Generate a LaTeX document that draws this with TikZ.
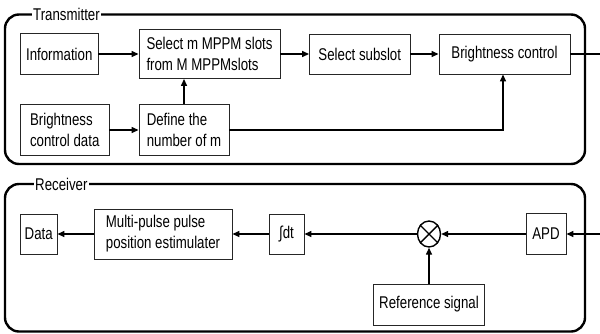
\documentclass[tikz,border=0pt]{standalone}
\usepackage{fontspec}
\setmainfont{Liberation Sans}[FakeStretch=0.78]
\usetikzlibrary{arrows.meta,shapes.geometric}
\tikzset{
  bx/.style={draw=black!85, line width=0.9pt, inner sep=0pt, align=left,
    font={\fontsize{17}{21}\selectfont}},
  conn/.style={line width=1.4pt, -{Triangle[length=7pt,width=6pt]}},
  plain/.style={line width=1.4pt},
  frame/.style={line width=2.4pt, rounded corners=14pt},
  lbl/.style={fill=white, inner xsep=1pt, inner ysep=1pt, anchor=base west,
    font={\fontsize{17}{20}\selectfont}}
}
\begin{document}
\begin{tikzpicture}[x=1pt,y=-1pt]
\useasboundingbox (0,0) rectangle (600,333);
% frames
\draw[frame] (5,14.5) rectangle (585,164);
\draw[frame] (5,184) rectangle (585,331.5);
\node[lbl] (tlabel) at (32,20) {Transmitter};
\node[lbl] (rlabel) at (34,190) {Receiver};
% transmitter
\node[bx, minimum width=77.5, minimum height=41] (info) at (59.25,54) {Information};
\node[bx, minimum width=141, minimum height=49] (selm) at (209.5,54) {Select m MPPM slots\\from M MPPMslots};
\node[bx, minimum width=88.5, minimum height=51] (bcd) at (64.75,130) {Brightness\\control data};
\node[bx, minimum width=90, minimum height=51] (def) at (184,130) {Define the\\number of m};
\node[bx, minimum width=100.5, minimum height=40] (sub) at (359.75,54) {Select subslot};
\node[bx, minimum width=131, minimum height=40] (bc) at (504.5,54) {Brightness control};
\coordinate (tout) at (600,54);
\draw[conn] (info.east) -- (selm.west);
\draw[conn] (selm.east) -- (sub.west);
\draw[conn] (sub.east) -- (bc.west);
\draw[plain] (bc.east) -- (tout);
\draw[conn] (bcd.east) -- (def.west);
\draw[conn] (def.north) -- (def.north |- selm.south);
\draw[conn] (def.east) -| ([xshift=-1.5pt]bc.south);
% receiver
\node[bx, minimum width=36.5, minimum height=40] (data) at (38.75,234) {Data};
\node[bx, minimum width=138, minimum height=50] (mp) at (163,234) {Multi-pulse pulse\\position estimulater};
\node[bx, minimum width=35, minimum height=40] (integ) at (286.5,234) {∫dt};
\node[draw, line width=1.4pt, ellipse, minimum width=23, minimum height=26, inner sep=0pt] (mix) at (429,234) {};
\draw[line width=1.4pt] (mix.135) -- (mix.-45) (mix.45) -- (mix.-135);
\node[bx, minimum width=40, minimum height=41] (apd) at (546,234) {APD};
\node[bx, minimum width=111, minimum height=41] (ref) at (429,304.5) {Reference signal};
\coordinate (rin) at (600,234);
\draw[conn] (rin) -- (apd.east);
\draw[conn] (apd.west) -- (mix.east);
\draw[conn] (mix.west) -- (integ.east);
\draw[conn] (integ.west) -- (mp.east);
\draw[conn] (mp.west) -- (data.east);
\draw[conn] (ref.north) -- (mix.south);
\end{tikzpicture}
\end{document}
